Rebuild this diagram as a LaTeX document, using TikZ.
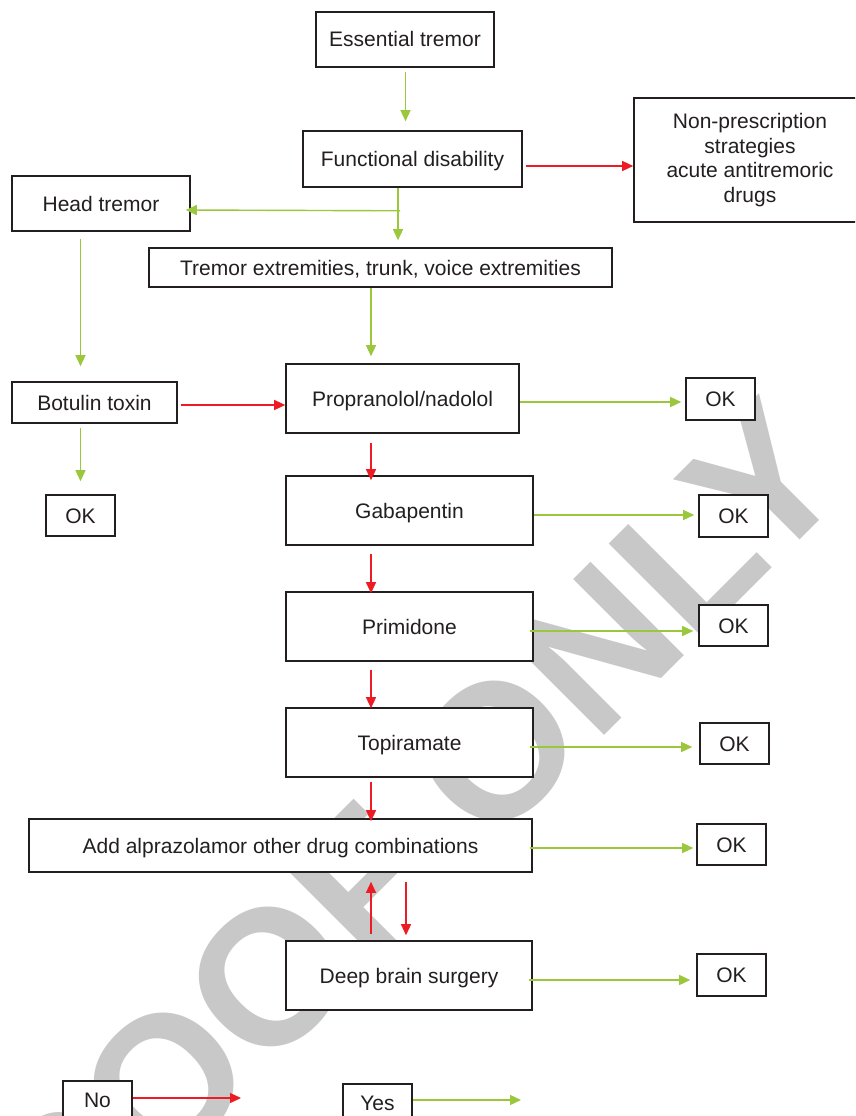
\documentclass[tikz,border=0pt]{standalone}
\usepackage{fontspec}
\setmainfont{Liberation Sans}
\usetikzlibrary{arrows.meta,calc}
\definecolor{gr}{RGB}{155,199,61}
\definecolor{rd}{RGB}{237,28,36}
\definecolor{ink}{RGB}{35,31,32}
\definecolor{wmgray}{RGB}{200,200,200}
\begin{document}
\begin{tikzpicture}[x=1pt,y=-1pt,
  box/.style={draw=ink,line width=1.6pt,fill=white,inner sep=0pt,text=ink,
    font=\fontsize{21}{24.7}\selectfont,align=center},
  sbox/.style={box,text height=15pt,text depth=0pt},
  garrow/.style={draw=gr,line width=1.4pt,-{Triangle[length=11pt,width=10pt]}},
  rarrow/.style={draw=rd,line width=1.3pt,-{Triangle[length=11pt,width=10pt]}},
  wmtext/.style={text=wmgray,inner sep=0pt,font=\fontsize{192}{192}\selectfont\bfseries}
]
\path[use as bounding box] (0,0) rectangle (855,1116);
\clip (0,0) rectangle (855,1116);
\fill[white] (0,0) rectangle (855,1116);

% watermark
\node[wmtext, rotate=45, anchor=base] (wmk) at (412,928) {PROOF ONLY};

% boxes
\node[sbox, minimum width=178pt, minimum height=55pt] (et) at (405,39.5) {Essential tremor};
\node[sbox, minimum width=219pt, minimum height=56pt] (fd) at (412.5,159) {Functional disability};
\node[box, minimum width=232pt, minimum height=124pt] (np) at (750,160) {Non-prescription\\strategies\\acute antitremoric\\drugs};
\node[sbox, minimum width=178pt, minimum height=55pt] (ht) at (101,203.5) {Head tremor};
\node[sbox, minimum width=463pt, minimum height=39pt] (tx) at (380.5,267.5) {Tremor extremities, trunk, voice extremities};
\node[sbox, minimum width=165pt, minimum height=41pt] (bt) at (94.5,402.5) {Botulin toxin};
\node[sbox, minimum width=233pt, minimum height=69pt] (pr) at (402.5,398.5) {Propranolol/nadolol};
\node[sbox, minimum width=69pt, minimum height=42pt] (ok1) at (720.5,399) {OK};
\node[sbox, minimum width=69pt, minimum height=41pt] (okb) at (80.5,515.5) {OK};
\node[sbox, minimum width=247pt, minimum height=69pt] (gb) at (409.5,510.5) {Gabapentin};
\node[sbox, minimum width=69pt, minimum height=42pt] (ok2) at (733.5,516) {OK};
\node[sbox, minimum width=247pt, minimum height=69pt] (pm) at (409.5,626.5) {Primidone};
\node[sbox, minimum width=69pt, minimum height=41pt] (ok3) at (733.5,625.5) {OK};
\node[sbox, minimum width=247pt, minimum height=69pt] (tp) at (409.5,742.5) {Topiramate};
\node[sbox, minimum width=69pt, minimum height=41pt] (ok4) at (734.5,743.5) {OK};
\node[sbox, minimum width=503pt, minimum height=53pt] (ad) at (280.5,845.5) {Add alprazolamor other drug combinations};
\node[sbox, minimum width=69pt, minimum height=41pt] (ok5) at (731.5,844.5) {OK};
\node[sbox, minimum width=246pt, minimum height=69pt] (db) at (409,975.5) {Deep brain surgery};
\node[sbox, minimum width=69pt, minimum height=42pt] (ok6) at (731.5,975) {OK};
\node[sbox, minimum width=69pt, minimum height=38pt] (no) at (97.5,1100) {No};
\node[sbox, minimum width=69pt, minimum height=38pt] (yes) at (377.5,1103) {Yes};

% helper columns
\coordinate (col) at (371,0);
\coordinate (col2) at (406,0);
\coordinate (fdb) at ($(fd.south)+(-14.5,0)$);
\coordinate (noend) at (241,1098);
\coordinate (yesend) at (521,1100);

% connectors
\draw[garrow] ($(et.south)+(0.5,4)$) -- ($(et.south |- fd.north)+(0.5,-9)$);
\draw[rarrow] ($(fd.east)+(3,7)$) -- ($(np.west)+(0,6)$);
\draw[garrow] (fdb) -- ($(fdb |- tx.north)+(0,-7)$);
\draw[garrow] ($(fdb)+(2,23)$) -- ($(ht.east)+(-5,6.5)$);
\draw[garrow] ($(ht.south -| okb.north)+(0,7)$) -- ($(bt.north -| okb.north)+(0,-15)$);
\draw[garrow] (col |- tx.south) -- ($(col |- pr.north)+(0,-7)$);
\draw[rarrow] ($(bt.east)+(3,2.5)$) -- ($(pr.west |- bt.east)+(0,2.5)$);
\draw[garrow] ($(bt.south -| okb.north)+(0,4)$) -- ($(okb.north)+(0,-13)$);
\draw[garrow] ($(pr.east)+(0,3.5)$) -- ($(ok1.west |- pr.east)+(-4,3.5)$);
\draw[rarrow] ($(col |- pr.south)+(0,9)$) -- ($(col |- gb.north)+(0,5)$);
\draw[garrow] ($(gb.east)+(0,4.5)$) -- ($(ok2.west |- gb.east)+(-4,4.5)$);
\draw[rarrow] ($(col |- gb.south)+(0,8)$) -- ($(col |- pm.north)+(0,2)$);
\draw[garrow] ($(pm.east)+(-4,4.5)$) -- ($(ok3.west |- pm.east)+(-5,4.5)$);
\draw[rarrow] ($(col |- pm.south)+(0,8)$) -- ($(col |- tp.north)+(0,1)$);
\draw[garrow] ($(tp.east)+(-4,4.5)$) -- ($(ok4.west |- tp.east)+(-7,4.5)$);
\draw[rarrow] ($(col |- tp.south)+(0,4)$) -- ($(col |- ad.north)+(0,3)$);
\draw[garrow] ($(ad.east)+(-3,2.5)$) -- ($(ok5.west |- ad.east)+(-3,2.5)$);
\draw[rarrow] ($(col |- db.north)+(0,-6)$) -- ($(col |- ad.south)+(0,9)$);
\draw[rarrow] ($(col2 |- ad.south)+(0,9)$) -- ($(col2 |- db.north)+(0,-5)$);
\draw[garrow] ($(db.east)+(-4,4.5)$) -- ($(ok6.west |- db.east)+(-6,4.5)$);
\draw[rarrow] (no.east |- noend) -- (noend);
\draw[garrow] (yes.east |- yesend) -- (yesend);
\end{tikzpicture}
\end{document}
